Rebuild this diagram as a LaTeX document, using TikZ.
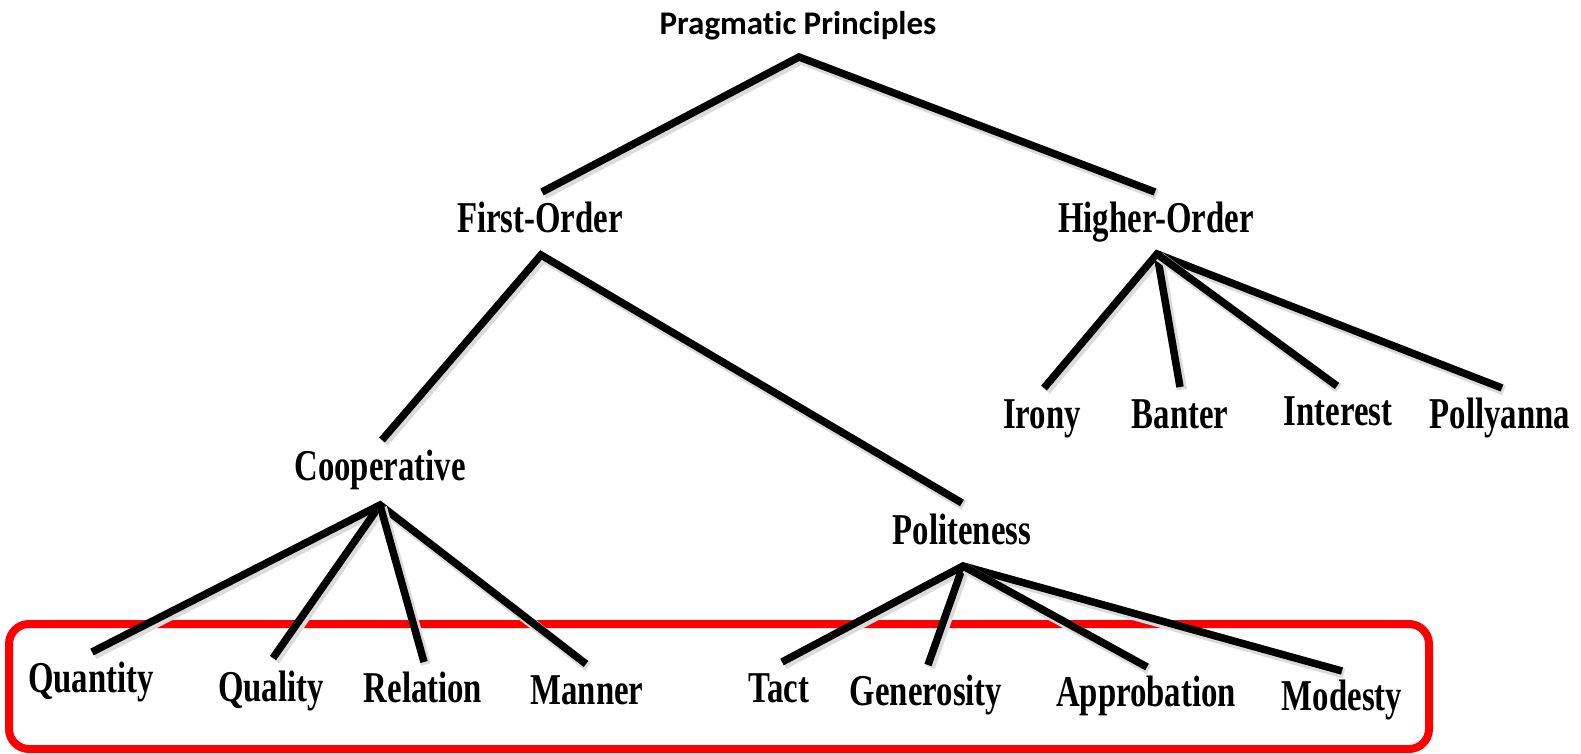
\documentclass[tikz,border=0pt]{standalone}
\usepackage{fontspec}
\newfontfamily\headfont[Ligatures=CommonOff]{Carlito}
\newfontfamily\leaffont[FakeStretch=0.745]{Liberation Serif}
\begin{document}
\begin{tikzpicture}[x=1pt,y=-1pt,
  lbl/.style={font=\leaffont\bfseries\fontsize{44}{50}\selectfont, inner sep=0pt, anchor=base},
  headlbl/.style={font=\headfont\bfseries\fontsize{33}{38}\selectfont, inner sep=0pt, anchor=base},
  branch/.style={line width=7.5pt, line join=miter, line cap=butt,
    preaction={draw=black!14, line width=10pt,
      transform canvas={xshift=2pt,yshift=-2.5pt}}},
  frame/.style={draw=red, line width=8pt, rounded corners=20pt}]
\useasboundingbox (0,0) rectangle (1581,754);

% highlight frame round the leaf maxims
\draw[frame] (9,624) rectangle (1429,749);

% labels
\node[headlbl] (prag) at (798,35) {Pragmatic Principles};
\node[lbl] (first) at (540,232) {First-Order};
\node[lbl] (higher) at (1156,233) {Higher-Order};
\node[lbl] (coop) at (380,480) {Cooperative};
\node[lbl] (polite) at (962,544) {Politeness};
\node[lbl] (irony) at (1042,428) {Irony};
\node[lbl] (banter) at (1180,428) {Banter};
\node[lbl] (interest) at (1338,425) {Interest};
\node[lbl] (pollyanna) at (1500,428) {Pollyanna};
\node[lbl] (quantity) at (91,692) {Quantity};
\node[lbl] (quality) at (271,701) {Quality};
\node[lbl] (relation) at (423,702) {Relation};
\node[lbl] (manner) at (587,704) {Manner};
\node[lbl] (tact) at (779,702) {Tact};
\node[lbl] (generosity) at (926,705) {Generosity};
\node[lbl] (approbation) at (1146,706) {Approbation};
\node[lbl] (modesty) at (1342,710) {Modesty};

% branch points and line ends
\coordinate (prag-out) at (799,57);
\coordinate (first-in) at (542,192);
\coordinate (higher-in) at (1155,192);
\coordinate (first-out) at (541,255);
\coordinate (coop-in) at (382,440);
\coordinate (polite-in) at (962,503);
\coordinate (higher-out) at (1157,254);
\coordinate (irony-in) at (1044,388);
\coordinate (banter-in) at (1180,387);
\coordinate (interest-in) at (1337,386);
\coordinate (pollyanna-in) at (1502,388);
\coordinate (coop-out) at (380,505);
\coordinate (quantity-in) at (92,652);
\coordinate (quality-in) at (273,658);
\coordinate (relation-in) at (424,662);
\coordinate (manner-in) at (586,664);
\coordinate (polite-out) at (963,566);
\coordinate (tact-in) at (782,662);
\coordinate (generosity-in) at (928,665);
\coordinate (approbation-in) at (1147,667);
\coordinate (modesty-in) at (1342,671);

% tree branches
\draw[branch] (first-in) -- (prag-out) -- (higher-in);
\draw[branch] (coop-in) -- (first-out) -- (polite-in);

\draw[branch] (irony-in) -- (higher-out) -- (pollyanna-in);
\draw[branch] (higher-out) -- (banter-in);
\draw[branch] (higher-out) -- (interest-in);

\draw[branch] (quantity-in) -- (coop-out) -- (manner-in);
\draw[branch] (coop-out) -- (quality-in);
\draw[branch] (coop-out) -- (relation-in);

\draw[branch] (tact-in) -- (polite-out) -- (modesty-in);
\draw[branch] (polite-out) -- (generosity-in);
\draw[branch] (polite-out) -- (approbation-in);
\end{tikzpicture}
\end{document}
